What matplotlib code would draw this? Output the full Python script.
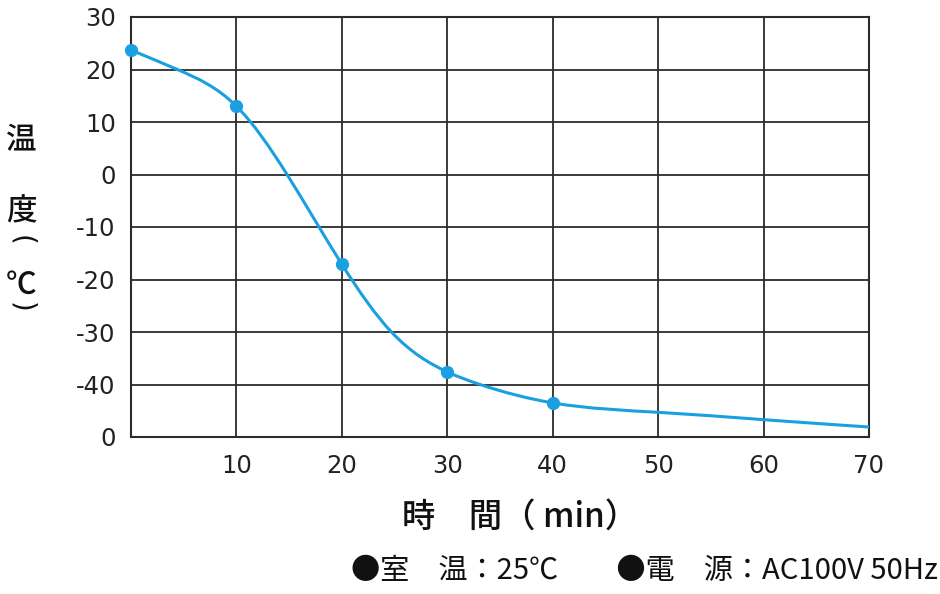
import numpy as np
import matplotlib
matplotlib.use('Agg')
import matplotlib.pyplot as plt
from matplotlib.path import Path
from matplotlib.patches import PathPatch

plt.rcParams['font.family'] = ['DejaVu Sans', 'Noto Sans CJK JP']
JP = ['Noto Sans CJK JP', 'DejaVu Sans']

# measured points (shown with markers)
time_min = [0, 10, 20, 30, 40]
temp_c = [23.7, 13.0, -17.1, -37.6, -43.5]
# points (no markers)
curve_min = [0, 4.4, 10, 14.8, 20, 24.7, 30, 33.1, 40, 50, 60, 70]
curve_c = [23.7, 20.0, 13.0, 0.0, -17.1, -30.0, -37.6, -40.0, -43.5, -45.3, -46.7, -48.1]

x_ticks = [0, 10, 20, 30, 40, 50, 60, 70]
x_labels = ['', '10', '20', '30', '40', '50', '60', '70']
y_ticks = [30, 20, 10, 0, -10, -20, -30, -40, -50]
y_labels = ['30', '20', '10', '0', '-10', '-20', '-30', '-40', '0']

LINE = '#1aa0e0'
GRID = '#2b2b2b'
TXT = '#111111'


def spline_path(xs, ys):
    """Natural cubic spline through the points, as bezier segments."""
    x = np.asarray(xs, float)
    y = np.asarray(ys, float)
    n = len(x)
    h = np.diff(x)
    d = np.diff(y) / h
    A = np.zeros((n, n))
    r = np.zeros(n)
    A[0, 0] = A[-1, -1] = 1
    for i in range(1, n - 1):
        A[i, i - 1] = h[i - 1]
        A[i, i] = 2 * (h[i - 1] + h[i])
        A[i, i + 1] = h[i]
        r[i] = 6 * (d[i] - d[i - 1])
    M = np.linalg.solve(A, r)
    m = np.empty(n)
    m[:-1] = d - h * (2 * M[:-1] + M[1:]) / 6
    m[-1] = d[-1] + h[-1] * (M[-2] + 2 * M[-1]) / 6
    verts = [(x[0], y[0])]
    codes = [Path.MOVETO]
    for i in range(n - 1):
        verts += [(x[i] + h[i] / 3, y[i] + m[i] * h[i] / 3),
                  (x[i + 1] - h[i] / 3, y[i + 1] - m[i + 1] * h[i] / 3),
                  (x[i + 1], y[i + 1])]
        codes += [Path.CURVE4] * 3
    return Path(verts, codes)


fig = plt.figure(figsize=(9.4, 5.94), dpi=100)
ax = fig.add_axes([131 / 940, 1 - 437 / 594, 738 / 940, 420 / 594])

ax.set_xlim(0, 70)
ax.set_ylim(-50, 30)
ax.set_xticks(x_ticks)
ax.set_xticklabels(x_labels)
ax.set_yticks(y_ticks)
ax.set_yticklabels(y_labels)
ax.tick_params(length=0, labelsize=17.5, colors='#222222')
ax.tick_params(axis='x', pad=12)
ax.tick_params(axis='y', pad=11)
ax.grid(True, color=GRID, lw=1.3)
for s in ax.spines.values():
    s.set_color(GRID)
    s.set_linewidth(1.5)

ax.add_patch(PathPatch(spline_path(curve_min, curve_c), fill=False,
                       edgecolor=LINE, lw=2.2, clip_on=False, zorder=3))
ax.plot(time_min, temp_c, 'o', color=LINE, ms=8.5, clip_on=False, zorder=4)

# vertical y label
for ch, yp in [('温', 141), ('度', 212), ('℃', 285)]:
    fig.text(21 / 940, 1 - yp / 594, ch, family=JP, fontsize=22,
             weight='medium', ha='center', va='center', color=TXT)
for ch, yp in [('(', 240), (')', 307)]:
    fig.text(21 / 940, 1 - yp / 594, ch, fontsize=20, rotation=270,
             rotation_mode='anchor', ha='center', va='center', color=TXT)

fig.text(520 / 940, 1 - 517 / 594, '時　間（ min）', family=JP, fontsize=24,
         weight='medium', ha='center', va='center', color=TXT)
fig.text(938 / 940, 1 - 571 / 594, '●室　温：25℃　　●電　源：AC100V 50Hz',
         family=JP, fontsize=21, ha='right', va='center', color=TXT)

fig.savefig('out.png', dpi=100)
